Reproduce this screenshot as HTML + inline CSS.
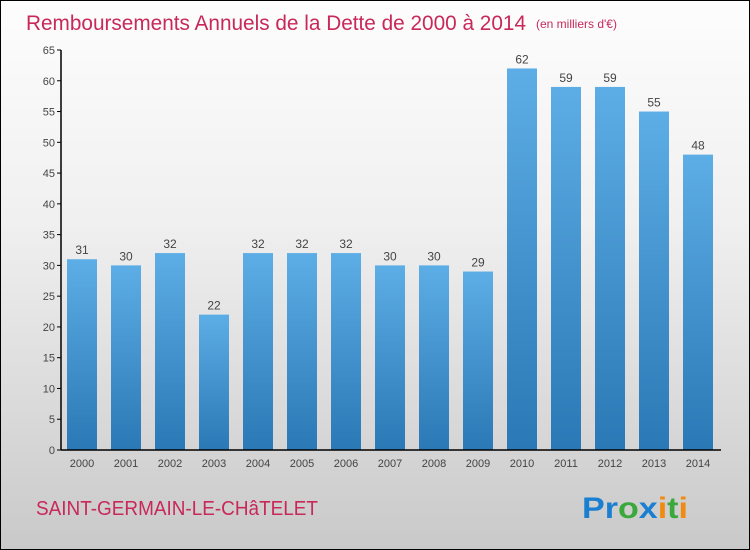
<!DOCTYPE html>
<html><head><meta charset="utf-8"><style>
body{margin:0;}
#c{position:relative;width:748px;height:548px;border:1px solid #000;background:linear-gradient(#fdfdfd,#f0f0f0 40%,#c9c9c9);font-family:"Liberation Sans",sans-serif;overflow:hidden}
svg{position:absolute;left:-1px;top:-1px}
</style></head><body>
<div id="c">
<svg id="s" width="750" height="550">
<defs><linearGradient id="g" x1="0" y1="0" x2="0" y2="1"><stop offset="0" stop-color="#5dade6"/><stop offset="1" stop-color="#2a78b5"/></linearGradient></defs>
<text x="26" y="30" font-size="21" fill="#c8285a" textLength="500" lengthAdjust="spacingAndGlyphs">Remboursements Annuels de la Dette de 2000 à 2014</text>
<text x="536" y="28" font-size="12" fill="#c8285a">(en milliers d'€)</text>
<text x="36" y="515" font-size="20" fill="#c8285a" textLength="282" lengthAdjust="spacingAndGlyphs">SAINT-GERMAIN-LE-CHâTELET</text>
<text x="582" y="518" font-size="30" font-weight="bold" textLength="106" lengthAdjust="spacingAndGlyphs"><tspan fill="#1a7fd0">Pr</tspan><tspan fill="#3aa83a">o</tspan><tspan fill="#1a7fd0">x</tspan><tspan fill="#f08a10">i</tspan><tspan fill="#3aa83a">t</tspan><tspan fill="#f08a10">i</tspan></text>
</svg></div>
<script>
const years=["2000","2001","2002","2003","2004","2005","2006","2007","2008","2009","2010","2011","2012","2013","2014"];
const values=[31,30,32,22,32,32,32,30,30,29,62,59,59,55,48];
const yTicks=[0,5,10,15,20,25,30,35,40,45,50,55,60,65];
const s=document.getElementById('s');const NS='http://www.w3.org/2000/svg';
const y0=450,yMax=65,ph=400;
const Y=v=>y0-v/yMax*ph;
const X=i=>82+i*44;
function el(t,a){const e=document.createElementNS(NS,t);for(const k in a)e.setAttribute(k,a[k]);s.appendChild(e);return e;}
yTicks.forEach(t=>{
const l=el('line',{x1:57,x2:61,y1:Y(t),y2:Y(t),stroke:'#000'});


const tx=el('text',{x:55,y:Y(t)+4,'font-size':11,fill:'#444','text-anchor':'end'});


tx.textContent=t;
});
values.forEach((v,i)=>{
const r=el('rect',{x:X(i)-15,y:Y(v),width:30,height:y0-Y(v),fill:'url(#g)'});


const vt=el('text',{x:X(i),y:Y(v)-5,'font-size':12,fill:'#444','text-anchor':'middle'});


vt.textContent=v;
const xt=el('text',{x:X(i),y:467,'font-size':11,fill:'#444','text-anchor':'middle'});


xt.textContent=years[i];
});
const ya=el('line',{x1:61,x2:61,y1:Y(65),y2:y0,stroke:'#000','stroke-width':1.5});


const xa=el('line',{x1:61,x2:721,y1:y0,y2:y0,stroke:'#000','stroke-width':1.5});


</script>
</body></html>
